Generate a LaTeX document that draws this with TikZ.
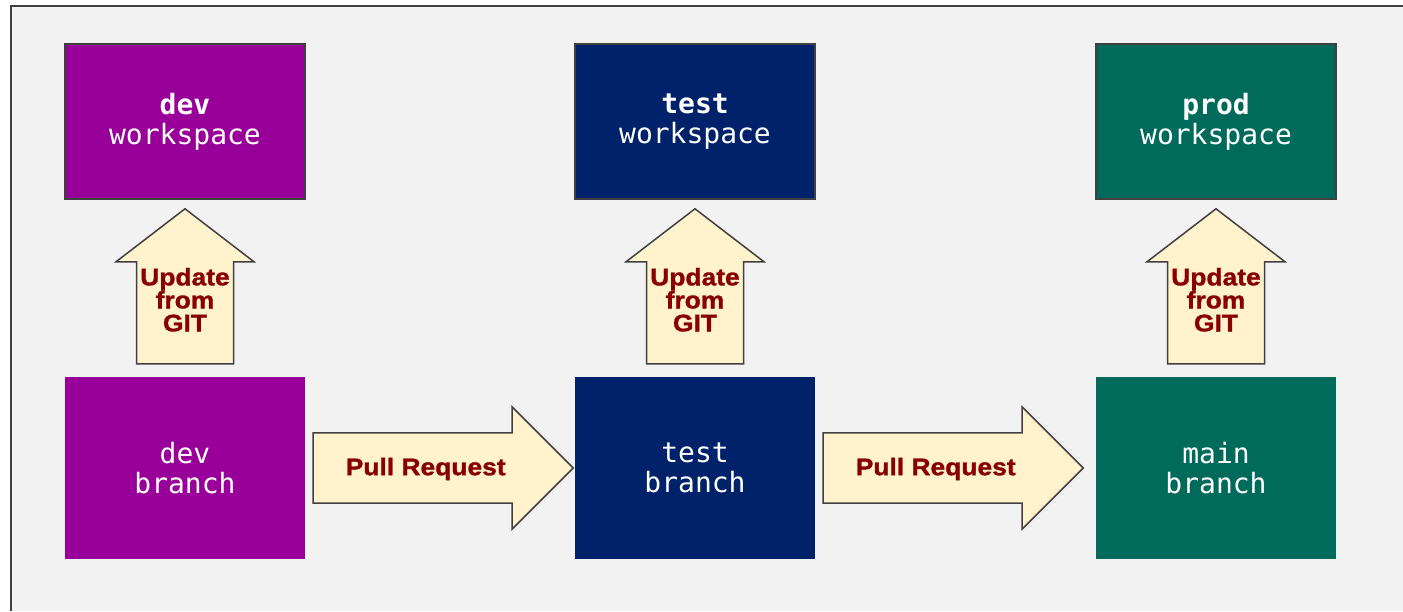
\documentclass[tikz,border=0pt]{standalone}
\usepackage{fontspec}
\usetikzlibrary{calc}
\newfontfamily\boxfont{DejaVu Sans Mono}
\newfontfamily\flowfont[FakeStretch=1.1,FakeBold=1.2]{Liberation Sans}

\definecolor{devc}{HTML}{990099}
\definecolor{testc}{HTML}{00226A}
\definecolor{prodc}{HTML}{006B5B}
\definecolor{flowfill}{HTML}{FFF2CC}
\definecolor{edgec}{HTML}{404040}
\definecolor{labelc}{HTML}{880000}
\definecolor{canvas}{HTML}{F2F2F2}

\tikzset{
  envbox/.style={minimum width=240pt, inner sep=0pt, text=white, align=center,
    font=\boxfont\fontsize{28}{30}\selectfont},
  wsbox/.style={envbox, draw=edgec, line width=1.5pt, minimum height=155pt},
  brbox/.style={envbox, minimum height=182pt},
  flow/.style={draw=edgec, line width=1.5pt, fill=flowfill, line join=miter},
  flowlabel/.style={text=labelc, align=center, inner sep=0pt,
    font=\flowfont\bfseries\fontsize{24}{23}\selectfont}
}

\begin{document}
\begin{tikzpicture}[x=1pt,y=1pt]
  \useasboundingbox (0,0) rectangle (1403,611);
  % canvas with its left and top border
  \fill[white] (0,0) rectangle (1403,611);
  \fill[canvas] (11,0) rectangle (1403,605);
  \draw[edgec, line width=2pt] (11,0) -- (11,605) -- (1403,605);

  % workspaces
  \node[wsbox, fill=devc]  (dws) at (185,489.5)  {\textbf{dev}\\workspace};
  \node[wsbox, fill=testc] (tws) at (695,489.5)  {\textbf{test}\\workspace};
  \node[wsbox, fill=prodc] (pws) at (1216,489.5) {\textbf{prod}\\workspace};

  % branches
  \node[brbox, fill=devc]  (dbr) at (185,143)  {dev\\branch};
  \node[brbox, fill=testc] (tbr) at (695,143)  {test\\branch};
  \node[brbox, fill=prodc] (mbr) at (1216,143) {main\\branch};

  % "Update from GIT" arrows, branch -> workspace
  \foreach \b/\w [count=\i] in {dbr/dws, tbr/tws, mbr/pws} {
    \coordinate (up\i) at ([yshift=13pt]\b.north);
    \draw[flow] ([xshift=-48.5pt]up\i) -- ++(97,0) -- ++(0,102) -- ++(20.5,0)
      -- ++(-69,53) -- ++(-69,-53) -- ++(20.5,0) -- cycle;
    \node[flowlabel] (upl\i) at ([yshift=64pt]up\i) {Update\\from\\GIT};
  }

  % "Pull Request" arrows between branches
  \foreach \a/\b [count=\i] in {dbr/tbr, tbr/mbr} {
    \coordinate (pr\i) at ([xshift=8pt]\a.east);
    \draw[flow] ([yshift=35pt]pr\i) -- ++(199,0) -- ++(0,26) -- ++(61,-61)
      -- ++(-61,-61) -- ++(0,26) -- ++(-199,0) -- cycle;
    \node[flowlabel] (prl\i) at ([xshift=112.5pt,yshift=-1pt]pr\i) {Pull Request};
  }
\end{tikzpicture}
\end{document}
